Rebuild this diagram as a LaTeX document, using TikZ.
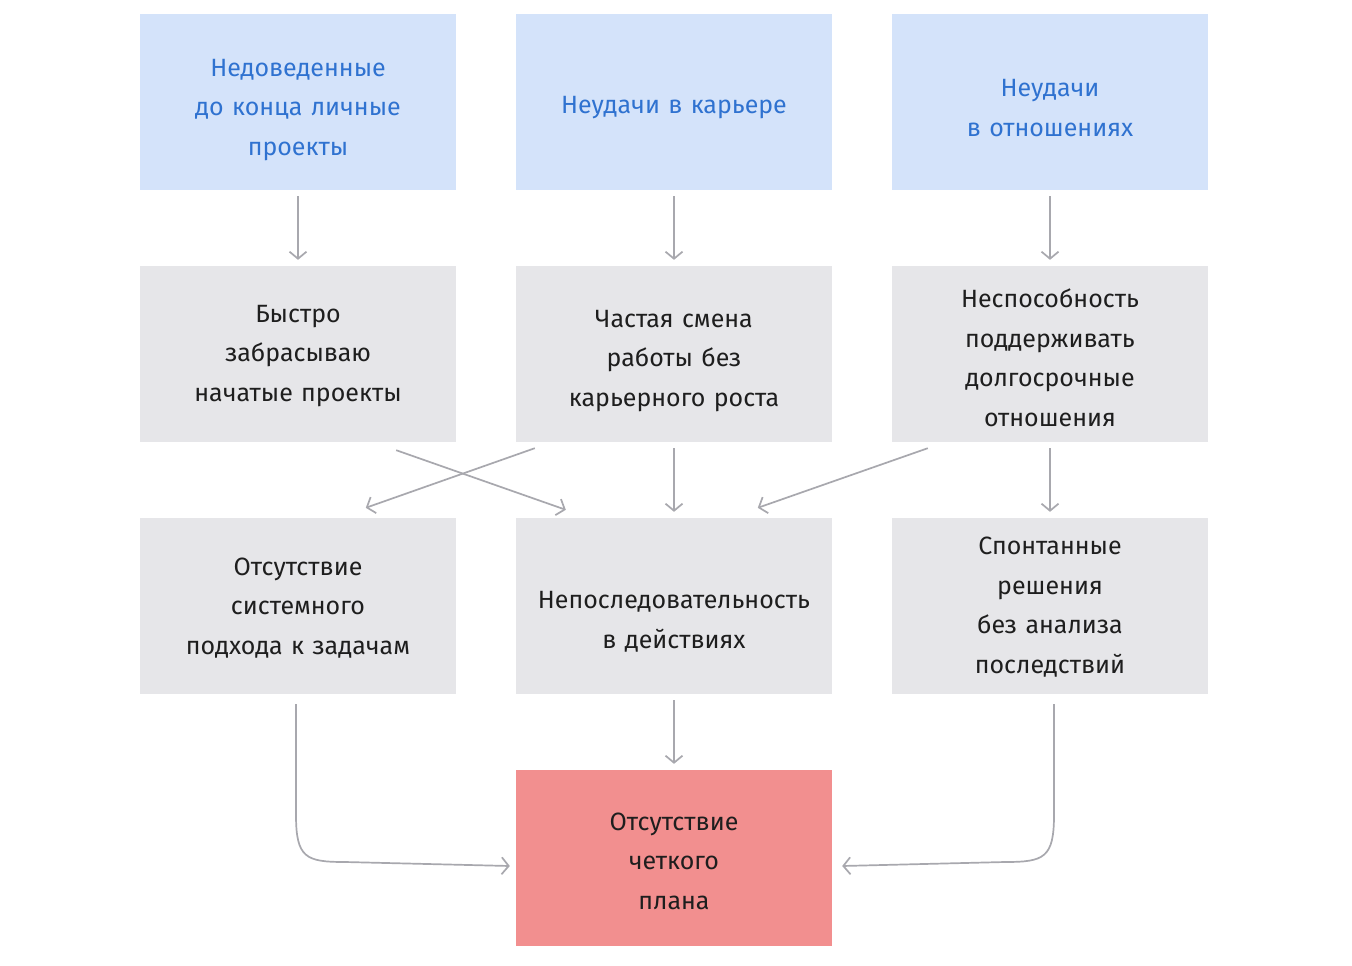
\documentclass[tikz,border=0pt]{standalone}
\usepackage{fontspec}
\setmainfont{Fira Sans}
\usetikzlibrary{arrows.meta,calc}
\definecolor{bluebox}{HTML}{D4E3FA}
\definecolor{bluetext}{HTML}{2F72D0}
\definecolor{greybox}{HTML}{E6E6E9}
\definecolor{redbox}{HTML}{F28F8F}
\definecolor{arrowgrey}{HTML}{A8A8AE}
\definecolor{textdark}{HTML}{1E1E1E}
\begin{document}
\begin{tikzpicture}[x=1pt,y=-1pt,
  box/.style={minimum width=316pt, minimum height=176pt, inner sep=0pt},
  cause/.style={box, fill=bluebox},
  mid/.style={box, fill=greybox},
  result/.style={box, fill=redbox},
  txt/.style={inner sep=0pt, align=center, text width=300pt, font=\fontsize{25}{39.5}\selectfont, text=textdark},
  bluetxt/.style={txt, text=bluetext},
  link/.style={draw=arrowgrey, line width=1.7pt, -{Straight Barb[length=7pt,width=17pt]}},
  gap/.style={shorten <=6pt, shorten >=6pt}
]
\useasboundingbox[fill=white] (0,0) rectangle (1352,966);

% boxes
\node[cause] (a1) at (298,102) {};
\node[cause] (a2) at (674,102) {};
\node[cause] (a3) at (1050,102) {};
\node[mid] (b1) at (298,354) {};
\node[mid] (b2) at (674,354) {};
\node[mid] (b3) at (1050,354) {};
\node[mid] (c1) at (298,606) {};
\node[mid] (c2) at (674,606) {};
\node[mid] (c3) at (1050,606) {};
\node[result] (d) at (674,858) {};

% texts
\node[bluetxt] (a1t) at ($(a1)+(0,8)$) {Недоведенные\\до конца личные\\проекты};
\node[bluetxt] (a2t) at ($(a2)+(0,6)$) {Неудачи в карьере};
\node[bluetxt] (a3t) at ($(a3)+(0,6)$) {Неудачи\\в отношениях};
\node[txt] (b1t) at ($(b1)+(0,2)$) {Быстро\\забрасываю\\начатые проекты};
\node[txt] (b2t) at ($(b2)+(0,7)$) {Частая смена\\работы без\\карьерного роста};
\node[txt] (b3t) at ($(b3)+(0,4)$) {Неспособность\\поддерживать\\долгосрочные\\отношения};
\node[txt] (c1t) at ($(c1)+(0,2)$) {Отсутствие\\системного\\подхода к задачам};
\node[txt] (c2t) at ($(c2)+(0,16)$) {Непоследовательность\\в действиях};
\node[txt] (c3t) at ($(c3)+(0,1)$) {Спонтанные\\решения\\без анализа\\последствий};
\node[txt] (dt) at ($(d)+(0,3)$) {Отсутствие\\четкого\\плана};

% vertical links
\draw[link,gap] (a1) -- (b1);
\draw[link,gap] (a2) -- (b2);
\draw[link,gap] (a3) -- (b3);
\draw[link,gap] (b2) -- (c2);
\draw[link,gap] (b3) -- (c3);
\draw[link,gap] (c2) -- (d);

% crossing links
\draw[link] ($(b1.south east)+(-60,8)$) -- ($(c2.north west)+(50,-8)$);
\draw[link] ($(b2.south west)+(19,6)$) -- ($(c1.north west)+(226,-10)$);
\draw[link] ($(b3.south west)+(36,6)$) -- ($(c2.north west)+(242,-10)$);

% curved links to the result
\draw[link] ($(c1.south)+(-2,10)$) -- (296,815)
  .. controls (296,858) and (306,862) .. (345,862)
  -- ($(d.west)+(-6,8)$);
\draw[link] ($(c3.south)+(4,10)$) -- (1054,815)
  .. controls (1054,858) and (1044,862) .. (1005,862)
  -- ($(d.east)+(10,8)$);
\end{tikzpicture}
\end{document}
